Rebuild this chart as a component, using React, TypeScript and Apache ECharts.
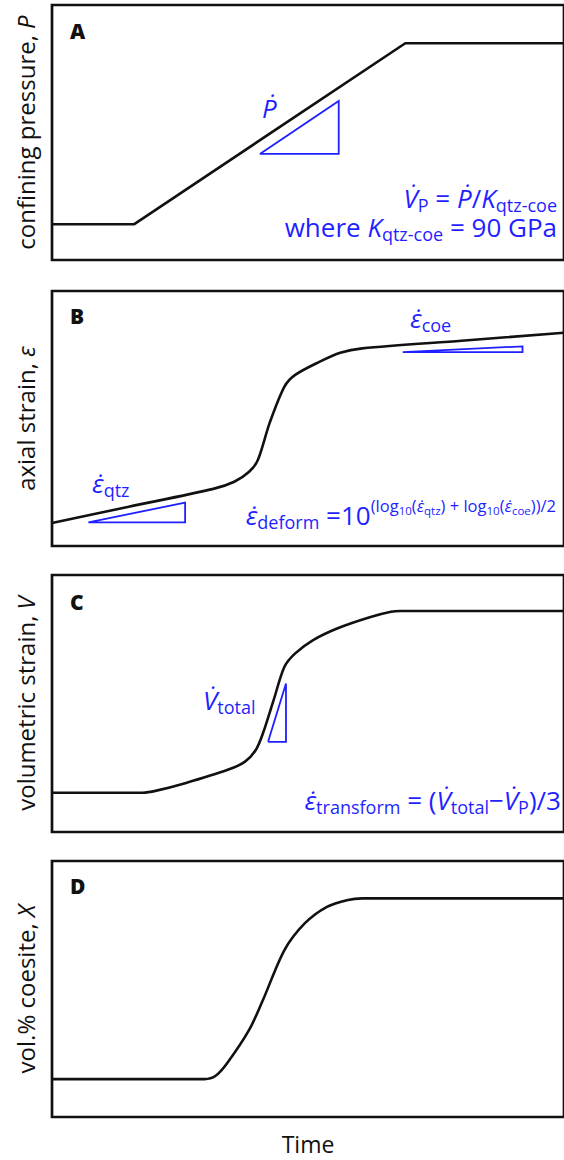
import React, { useEffect, useRef } from "react";
import * as echarts from "echarts";

const BLUE = "#1f1fff";
const INK = "#111111";
const FONT = "Open Sans";

// Time axis runs 0..100 in every panel; each quantity is on a 0..100 relative scale.
const panelLetters = ["A", "B", "C", "D"];
const axisTitles = [
  "confining pressure, {i|P}",
  "axial strain, {i|\u03b5}",
  "volumetric strain, {i|V}",
  "vol.% coesite, {i|X}",
];
const timeLabel = "Time";

// Panel A – confining pressure
const pressureCurve = [
  [0, 14], [16, 14], [69, 85], [100, 85],
];
const pressureTriangle = [
  [40.6, 41.6], [56, 41.6], [56, 62.4], [40.6, 41.6],
];

// Panel B – axial strain
const axialCurve = [
  [0, 9], [15, 15.4], [31.5, 22.4], [35.6, 25.2],
  [38.5, 29.1], [40.2, 33.7], [42.5, 48.2], [45.4, 62.5], [47.5, 67.1],
  [52.3, 72.3], [56.3, 75.8], [60.6, 77.5], [80, 80.5], [100, 83.6],
];
const qtzTriangle = [
  [7.1, 9.3], [26, 9.3], [26, 17], [7.1, 9.3],
];
const coeTriangle = [
  [68.5, 76.0], [91.9, 76.0], [91.9, 78.3], [68.5, 76.0],
];

// Panel C – volumetric strain
const volumetricCurve = [
  [0, 15.3], [17.7, 15.3], [20.4, 16.1], [26, 19], [34.2, 24.1],
  [37.7, 27.4], [39.8, 31.9], [41.2, 38.4], [43.3, 51.4], [45.4, 64.3],
  [47.5, 69.5], [51, 74.7], [55.8, 79.3], [61.9, 83.5], [66.2, 85.7],
  [68.1, 86], [100, 86],
];
const totalTriangle = [
  [42.2, 35.1], [45.7, 35.1], [45.7, 57.8], [42.2, 35.1],
];

// Panel D – vol.% coesite
const coesiteCurve = [
  [0, 14.8], [29.8, 14.8], [31.9, 16], [34.2, 21], [38.5, 34],
  [41.2, 45.7], [45.4, 65.2], [49.4, 75.7], [53.7, 82.1], [57.8, 84.8],
  [60.6, 85.4], [100, 85.4],
];

const curves = [pressureCurve, axialCurve, volumetricCurve, coesiteCurve];
const smoothing = [false, 0.3, 0.3, 0.3];
const triangles = [
  [0, pressureTriangle],
  [1, qtzTriangle],
  [1, coeTriangle],
  [2, totalTriangle],
];

const DOT = "\u0307";
const EPS = "\u03b5" + DOT;
const VD = "V" + DOT;
const PD = "P" + DOT;

// Annotation texts (rich); "lift" reserves room above for superscripts, "lh" sets line spacing
const annotations = [
  { x: 262, base: 118, align: "left", lift: 0, lh: 0, text: `{it|${PD}}` },
  {
    x: 557, base: 208, align: "right", lift: 0, lh: 29,
    text:
      `{it|${VD}}{sub|P}{n| = }{it|${PD}}{n|/}{it|K}{sub|qtz-coe}\n` +
      `{n|where }{it|K}{sub|qtz-coe}{n| = 90 GPa}`,
  },
  { x: 410, base: 328, align: "left", lift: 0, lh: 0, text: `{it|${EPS}}{sub|coe}` },
  { x: 92, base: 493, align: "left", lift: 0, lh: 0, text: `{it|${EPS}}{sub|qtz}` },
  {
    x: 556, base: 525, align: "right", lift: 5, lh: 0,
    text: `{it|${EPS}}{sub|deform}{n| =10}{sup|(log}{ssub|10}{sup|(}{sit|${EPS}}{ssub|qtz}{sup|) + log}{ssub|10}{sup|(}{sit|${EPS}}{ssub|coe}{sup|))/2}`,
  },
  { x: 203, base: 710, align: "left", lift: 0, lh: 0, text: `{it|${VD}}{sub|total}` },
  { x: 561, base: 810, align: "right", lift: 0, lh: 0, text: `{it|${EPS}}{sub|transform}{n| = (}{it|${VD}}{sub|total}{n|\u2212}{it|${VD}}{sub|P}{n|)/3}` },
];

const gridTops = [5, 291, 575, 861];
const gridHeights = [255, 255, 257, 256];
const letterTops = [20, 305, 591, 875];

const MAIN = 26;
const SUB = 18;
const SUP = 16.5;
const SSUB = 11.5;

function tok(size: number, pad: number, italic: boolean, align: string, lh: number) {
  const t: any = {
    fontFamily: FONT,
    fontSize: size,
    fontStyle: italic ? "italic" : "normal",
    fill: BLUE,
    verticalAlign: "top",
    textVerticalAlign: "top",
    padding: [Math.max(0, pad), 0, 0, 0],
  };
  if (lh > 0) {
    t.lineHeight = lh;
    t.align = align;
  }
  return t;
}
function makeRich(p0: number, align: string, lh: number) {
  return {
    n: tok(MAIN, p0, false, align, lh),
    it: tok(MAIN, p0, true, align, lh),
    sub: tok(SUB, p0 + 11.2, false, align, lh),
    sup: tok(SUP, p0 - 5, false, align, lh),
    sit: tok(SUP, p0 - 5, true, align, lh),
    ssub: tok(SSUB, p0 + 2.5, false, align, lh),
  };
}
const baseOffset = (p0: number) => p0 + 22.9;

function buildOption() {
  const grid = gridTops.map((top, i) => ({
    left: 52,
    right: -8,
    top,
    height: gridHeights[i],
    show: true,
    borderColor: INK,
    borderWidth: 2.7,
    backgroundColor: "transparent",
  }));
  const xAxis = gridTops.map((_, i) => ({
    type: "value",
    gridIndex: i,
    min: 0,
    max: 100,
    axisLine: { show: false },
    axisTick: { show: false },
    axisLabel: { show: false },
    splitLine: { show: false },
    name: i === 3 ? timeLabel : "",
    nameLocation: "middle",
    nameGap: 15,
    nameTextStyle: { fontFamily: FONT, fontSize: 23, color: INK },
  }));
  const yAxis = gridTops.map((_, i) => ({
    type: "value",
    gridIndex: i,
    min: 0,
    max: 100,
    axisLine: { show: false },
    axisTick: { show: false },
    axisLabel: { show: false },
    splitLine: { show: false },
    name: axisTitles[i],
    nameLocation: "middle",
    nameRotate: 90,
    nameGap: 15,
    nameTextStyle: {
      fontFamily: FONT,
      fontSize: 24,
      color: INK,
      rich: { i: { fontFamily: FONT, fontSize: 24, fontStyle: "italic", color: INK } },
    },
  }));
  const series: any[] = curves.map((data, i) => ({
    type: "line",
    xAxisIndex: i,
    yAxisIndex: i,
    data,
    symbol: "none",
    smooth: smoothing[i],
    lineStyle: { color: INK, width: 2.6, join: "round" },
    silent: true,
    z: 3,
  }));
  triangles.forEach(([i, data]: any) => {
    series.push({
      type: "line",
      xAxisIndex: i,
      yAxisIndex: i,
      data,
      symbol: "none",
      lineStyle: { color: BLUE, width: 1.8, join: "miter" },
      silent: true,
      z: 2,
    });
  });
  const graphic: any[] = [];
  panelLetters.forEach((l, i) => {
    graphic.push({
      type: "text",
      x: 70,
      y: letterTops[i],
      style: {
        text: l,
        fontFamily: FONT,
        fontSize: 21,
        fontWeight: 800,
        fill: INK,
        textVerticalAlign: "top",
        verticalAlign: "top",
      },
    });
  });
  annotations.forEach((a) => {
    const style: any = {
      text: a.text,
      fill: BLUE,
      fontFamily: FONT,
      fontSize: MAIN,
      textAlign: a.align,
      align: a.align,
      textVerticalAlign: "top",
      verticalAlign: "top",
      rich: makeRich(a.lift, a.align, a.lh),
    };
    if (a.lh > 0) style.lineHeight = a.lh;
    graphic.push({
      type: "text",
      x: a.x,
      y: a.base - baseOffset(a.lift),
      style,
    });
  });
  return {
    animation: false,
    backgroundColor: "#ffffff",
    grid,
    xAxis,
    yAxis,
    series,
    graphic,
  };
}

export default function App() {
  const ref = useRef<HTMLDivElement>(null);
  useEffect(() => {
    const chart = echarts.init(ref.current as HTMLDivElement, null, { renderer: "svg" });
    chart.setOption(buildOption() as any);
    return () => chart.dispose();
  }, []);
  return (
    <div
      ref={ref}
      style={{ position: "absolute", left: 0, top: 0, width: 564, height: 1160, background: "#fff" }}
    />
  );
}
